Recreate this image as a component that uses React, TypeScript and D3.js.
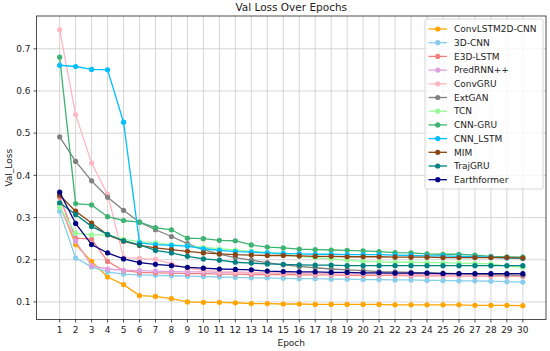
import React from 'react';
import * as d3 from 'd3';

const epochs = d3.range(1, 31);

const convLstm2dCnn = [0.330, 0.236, 0.196, 0.159, 0.141, 0.115, 0.113, 0.108, 0.100, 0.099, 0.099, 0.098, 0.096, 0.096, 0.095, 0.095, 0.094, 0.094, 0.094, 0.094, 0.094, 0.093, 0.093, 0.093, 0.093, 0.093, 0.092, 0.092, 0.092, 0.091];
const cnn3d = [0.315, 0.204, 0.183, 0.171, 0.166, 0.164, 0.163, 0.162, 0.161, 0.160, 0.159, 0.158, 0.157, 0.157, 0.156, 0.155, 0.155, 0.154, 0.154, 0.153, 0.153, 0.152, 0.152, 0.151, 0.151, 0.150, 0.150, 0.149, 0.148, 0.147];
const e3dLstm = [0.348, 0.251, 0.249, 0.196, 0.174, 0.170, 0.169, 0.168, 0.167, 0.167, 0.166, 0.166, 0.165, 0.165, 0.165, 0.164, 0.164, 0.164, 0.163, 0.163, 0.163, 0.163, 0.162, 0.162, 0.162, 0.162, 0.161, 0.161, 0.161, 0.160];
const predRnn = [0.328, 0.244, 0.186, 0.178, 0.175, 0.174, 0.173, 0.172, 0.171, 0.171, 0.170, 0.170, 0.169, 0.169, 0.168, 0.168, 0.167, 0.167, 0.167, 0.166, 0.166, 0.166, 0.165, 0.165, 0.165, 0.164, 0.164, 0.164, 0.163, 0.163];
const convGru = [0.745, 0.544, 0.429, 0.355, 0.205, 0.203, 0.201, 0.190, 0.180, 0.175, 0.172, 0.171, 0.170, 0.169, 0.168, 0.168, 0.167, 0.167, 0.166, 0.166, 0.165, 0.165, 0.164, 0.164, 0.163, 0.163, 0.162, 0.162, 0.162, 0.161];
const extGan = [0.491, 0.433, 0.387, 0.348, 0.317, 0.289, 0.271, 0.255, 0.238, 0.224, 0.213, 0.205, 0.199, 0.193, 0.188, 0.184, 0.181, 0.178, 0.176, 0.174, 0.172, 0.171, 0.170, 0.169, 0.168, 0.167, 0.166, 0.165, 0.164, 0.163];
const tcn = [0.325, 0.263, 0.259, 0.259, 0.248, 0.243, 0.240, 0.236, 0.233, 0.229, 0.226, 0.223, 0.220, 0.217, 0.213, 0.208, 0.205, 0.202, 0.199, 0.196, 0.195, 0.194, 0.194, 0.193, 0.193, 0.192, 0.191, 0.190, 0.185, 0.182];
const cnnGru = [0.680, 0.333, 0.330, 0.302, 0.293, 0.289, 0.276, 0.271, 0.251, 0.250, 0.246, 0.245, 0.235, 0.230, 0.228, 0.225, 0.224, 0.223, 0.222, 0.221, 0.219, 0.217, 0.216, 0.214, 0.213, 0.213, 0.211, 0.208, 0.207, 0.206];
const cnnLstm = [0.661, 0.658, 0.651, 0.650, 0.526, 0.240, 0.236, 0.234, 0.232, 0.226, 0.222, 0.219, 0.218, 0.216, 0.215, 0.214, 0.213, 0.213, 0.212, 0.212, 0.212, 0.211, 0.210, 0.209, 0.209, 0.208, 0.207, 0.206, 0.204, 0.203];
const mim = [0.353, 0.315, 0.287, 0.259, 0.244, 0.234, 0.228, 0.224, 0.220, 0.216, 0.214, 0.212, 0.211, 0.210, 0.210, 0.209, 0.208, 0.208, 0.207, 0.207, 0.207, 0.206, 0.206, 0.206, 0.205, 0.205, 0.205, 0.205, 0.205, 0.204];
const trajGru = [0.335, 0.307, 0.279, 0.260, 0.245, 0.235, 0.222, 0.216, 0.208, 0.202, 0.199, 0.194, 0.192, 0.190, 0.189, 0.188, 0.187, 0.187, 0.186, 0.186, 0.186, 0.186, 0.186, 0.186, 0.186, 0.186, 0.186, 0.186, 0.186, 0.186];
const earthformer = [0.360, 0.286, 0.236, 0.216, 0.202, 0.193, 0.189, 0.186, 0.182, 0.180, 0.178, 0.177, 0.176, 0.173, 0.172, 0.171, 0.171, 0.170, 0.170, 0.169, 0.169, 0.168, 0.168, 0.168, 0.167, 0.167, 0.167, 0.167, 0.167, 0.167];

const seriesNames = ['ConvLSTM2D-CNN', '3D-CNN', 'E3D-LSTM', 'PredRNN++', 'ConvGRU', 'ExtGAN', 'TCN', 'CNN-GRU', 'CNN_LSTM', 'MIM', 'TrajGRU', 'Earthformer'];
const seriesValues = [convLstm2dCnn, cnn3d, e3dLstm, predRnn, convGru, extGan, tcn, cnnGru, cnnLstm, mim, trajGru, earthformer];
const seriesColors = ['#FFA500', '#87CEEB', '#F08080', '#DDA0DD', '#FFB6C1', '#808080', '#98FB98', '#3CB371', '#00BFFF', '#8B4513', '#008080', '#000080'];

const yTicks = [0.1, 0.2, 0.3, 0.4, 0.5, 0.6, 0.7];

const font = 'DejaVu Sans';

export default function App() {
  const width = 550;
  const height = 351;
  const left = 36.5;
  const right = 546;
  const top = 16;
  const bottom = 319.5;

  // matplotlib style 5% margins
  const allVals = seriesValues.flat();
  const yMin = d3.min(allVals)!;
  const yMax = d3.max(allVals)!;
  const yPad = (yMax - yMin) * 0.05;
  const xPad = (30 - 1) * 0.05;

  const x = d3.scaleLinear().domain([1 - xPad, 30 + xPad]).range([left, right]);
  const y = d3.scaleLinear().domain([yMin - yPad, yMax + yPad]).range([bottom, top]);

  const line = d3
    .line<number>()
    .x((_, i) => x(epochs[i]))
    .y((d) => y(d));

  const legX = 425;
  const legY = 19;
  const legW = 118;
  const legRow = 13.7;
  const legH = 170;

  return (
    <svg width={width} height={height} style={{ position: 'absolute', left: 0, top: 0 }} fontFamily={font}>
      <rect x={0} y={0} width={width} height={height} fill="#fff" />
      {/* grid */}
      {epochs.map((e) => (
        <line key={'gx' + e} x1={x(e)} x2={x(e)} y1={top} y2={bottom} stroke="#d0d0d0" strokeWidth={0.9} />
      ))}
      {yTicks.map((t) => (
        <line key={'gy' + t} x1={left} x2={right} y1={y(t)} y2={y(t)} stroke="#d0d0d0" strokeWidth={0.9} />
      ))}
      {/* series */}
      {seriesValues.map((vals, si) => (
        <g key={seriesNames[si]}>
          <path d={line(vals) ?? ''} fill="none" stroke={seriesColors[si]} strokeWidth={1.3} />
          {vals.map((v, i) => (
            <circle key={i} cx={x(epochs[i])} cy={y(v)} r={2.6} fill={seriesColors[si]} />
          ))}
        </g>
      ))}
      {/* spines */}
      <rect x={left} y={top} width={right - left} height={bottom - top} fill="none" stroke="#222" strokeWidth={0.8} />
      {/* x ticks */}
      {epochs.map((e) => (
        <g key={'xt' + e}>
          <line x1={x(e)} x2={x(e)} y1={bottom} y2={bottom + 3} stroke="#222" strokeWidth={0.8} />
          <text x={x(e)} y={bottom + 13} fontSize={9} textAnchor="middle" fill="#222">
            {e}
          </text>
        </g>
      ))}
      {/* y ticks */}
      {yTicks.map((t) => (
        <g key={'yt' + t}>
          <line x1={left - 3} x2={left} y1={y(t)} y2={y(t)} stroke="#222" strokeWidth={0.8} />
          <text x={left - 6} y={y(t) + 3.2} fontSize={9} textAnchor="end" fill="#222">
            {t.toFixed(1)}
          </text>
        </g>
      ))}
      <text x={(left + right) / 2} y={346} fontSize={9} textAnchor="middle" fill="#222">
        Epoch
      </text>
      <text
        transform={`translate(11.5,${(top + bottom) / 2}) rotate(-90)`}
        fontSize={9}
        textAnchor="middle"
        fill="#222"
      >
        Val_Loss
      </text>
      <text x={(left + right) / 2} y={11} fontSize={10.5} textAnchor="middle" fill="#222">
        Val Loss Over Epochs
      </text>
      {/* legend */}
      <rect x={legX} y={legY} width={legW} height={legH} rx={2} fill="#fff" fillOpacity={0.8} stroke="#cccccc" strokeWidth={0.8} />
      {seriesNames.map((name, i) => {
        const cy = legY + 10 + i * legRow;
        return (
          <g key={'leg' + name}>
            <line x1={legX + 3.5} x2={legX + 22} y1={cy} y2={cy} stroke={seriesColors[i]} strokeWidth={1.3} />
            <circle cx={legX + 12.75} cy={cy} r={2.6} fill={seriesColors[i]} />
            <text x={legX + 29} y={cy + 3.2} fontSize={9} fill="#222">
              {name}
            </text>
          </g>
        );
      })}
    </svg>
  );
}
